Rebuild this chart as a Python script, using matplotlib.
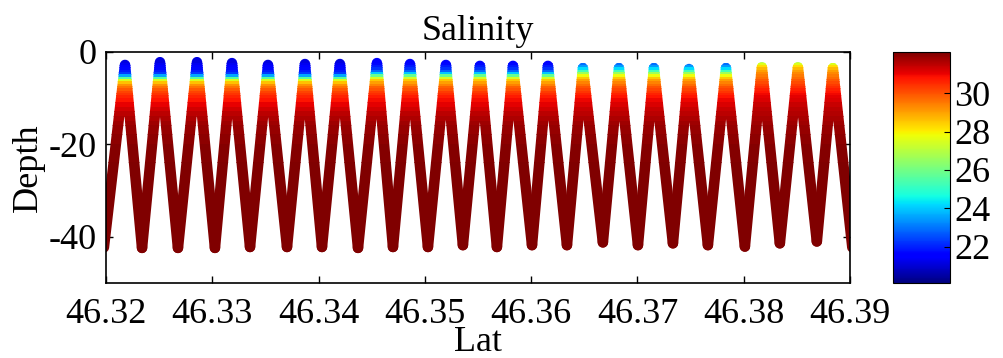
import numpy as np
import matplotlib
matplotlib.use("Agg")
from matplotlib import pyplot as plt
from matplotlib.patches import Rectangle
from matplotlib.colors import Normalize
from matplotlib.cm import ScalarMappable

plt.rcParams['font.family'] = ['Liberation Serif', 'DejaVu Serif']
plt.rcParams['axes.unicode_minus'] = False

# turning points of the yo-yo track
trough_lat = [46.3198, 46.32339, 46.32677, 46.33025, 46.33355, 46.33703, 46.34032,
              46.34371, 46.34700, 46.35029, 46.35358, 46.35678, 46.36008, 46.36337,
              46.36675, 46.37005, 46.37334, 46.37663, 46.38011, 46.38340, 46.38688,
              46.39022]
trough_depth = [-42.3, -42.4, -42.4, -42.4, -42.2, -42.2, -42.2,
                -42.4, -42.2, -42.2, -41.8, -42.2, -41.8, -41.8,
                -41.2, -41.8, -41.4, -41.8, -42.1, -41.4, -41.0,
                -42.3]
peak_lat = [46.32179, 46.32508, 46.32856, 46.33185, 46.33524, 46.33872, 46.34201,
            46.34549, 46.34860, 46.35198, 46.35518, 46.35829, 46.36158, 46.36487,
            46.36826, 46.37155, 46.37485, 46.37833, 46.38171, 46.38510, 46.38839]
peak_depth = [-2.8, -2.2, -2.2, -2.4, -2.8, -2.6, -2.6,
              -2.4, -2.6, -2.8, -3.0, -3.0, -3.0, -3.5,
              -3.5, -3.5, -3.7, -3.5, -3.3, -3.3, -3.5]
# which salinity profile each cast shows
cast_type = [0, 0, 0, 0, 0, 0, 0,
             1, 1, 1, 1, 1, 1, 2,
             2, 2, 2, 2, 3, 3, 3]

# salinity profiles (band edges in depth, one value per band)
band_edges = [0, -2.5, -3, -3.5, -4, -4.5, -5, -5.5, -6, -6.5, -7, -7.5, -8,
              -8.5, -9, -9.5, -10, -11, -12, -13, -14, -15, -16, -18, -20, -24, -50]
sal_type0 = [21.1, 21.3, 21.5, 21.7, 21.9, 22.3, 23.6, 25.6, 27.5, 28.6, 29.2,
             29.6, 29.9, 30.2, 30.4, 30.6, 30.8, 31.05, 31.3, 31.5, 31.65,
             31.8, 31.9, 32.0, 32.07, 32.12]
sal_type1 = [21.5, 21.7, 21.9, 22.2, 22.8, 24.0, 25.8, 27.4, 28.5, 29.0, 29.4,
             29.8, 30.0, 30.3, 30.5, 30.7, 30.9, 31.1, 31.3, 31.5, 31.65,
             31.8, 31.9, 32.0, 32.07, 32.12]
sal_type2 = [22.6, 22.9, 23.4, 24.2, 25.3, 26.6, 27.8, 28.5, 29.0, 29.4, 29.7,
             30.0, 30.2, 30.4, 30.6, 30.8, 31.0, 31.2, 31.35, 31.5, 31.65,
             31.8, 31.9, 32.0, 32.07, 32.12]
sal_type3 = [27.0, 27.5, 28.2, 28.7, 29.0, 29.3, 29.5, 29.7, 29.9, 30.1, 30.3,
             30.5, 30.65, 30.8, 30.95, 31.1, 31.2, 31.35, 31.5, 31.6, 31.7,
             31.8, 31.9, 32.0, 32.07, 32.12]
profiles = [sal_type0, sal_type1, sal_type2, sal_type3]

cbar_ticks = [22, 24, 26, 28, 30]
x_ticks = [46.32, 46.33, 46.34, 46.35, 46.36, 46.37, 46.38, 46.39]
y_ticks = [-40, -20, 0]
xlim = (46.32, 46.39)
ylim = (-50, 0)
clim = (20.1, 32.15)

cmap = plt.get_cmap('jet')
norm = Normalize(vmin=clim[0], vmax=clim[1])

fig = plt.figure(figsize=(10.04, 3.58), dpi=100)
ax = fig.add_axes([106/1004, 75/358, 744/1004, 231/358])
cax = fig.add_axes([893/1004, 75/358, 57/1004, 231/358])

for k in range(len(peak_lat)):
    lats = [trough_lat[k], peak_lat[k], trough_lat[k+1]]
    deps = [trough_depth[k], peak_depth[k], trough_depth[k+1]]
    prof = profiles[cast_type[k]]
    for j in range(len(prof)):
        top = min(band_edges[j] + 0.15, 0)
        bot = band_edges[j+1]
        line, = ax.plot(lats, deps, color=cmap(norm(prof[j])), lw=7.6,
                        solid_joinstyle='round', solid_capstyle='round')
        clip = Rectangle((xlim[0], bot), xlim[1]-xlim[0], top-bot,
                         transform=ax.transData)
        line.set_clip_path(clip)

ax.set_xlim(*xlim)
ax.set_ylim(*ylim)
ax.set_xticks(x_ticks)
ax.set_xticklabels(['%.2f' % v for v in x_ticks])
ax.set_yticks(y_ticks)
ax.set_yticklabels(['%d' % v for v in y_ticks])
ax.tick_params(direction='in', length=5, width=1, top=True, right=True,
               labelsize=26)
ax.tick_params(axis='x', pad=11)
ax.tick_params(axis='y', pad=7)
for s in ax.spines.values():
    s.set_linewidth(1.2)
ax.set_title('Salinity', fontsize=26, pad=9)
ax.set_xlabel('Lat', fontsize=26, labelpad=-4)
ax.set_ylabel('Depth', fontsize=26, labelpad=2)

cb = fig.colorbar(ScalarMappable(norm=norm, cmap=cmap), cax=cax)
cb.set_ticks(cbar_ticks)
cb.ax.tick_params(direction='in', length=4, width=0.8, labelsize=26, pad=3)
cb.outline.set_linewidth(0.8)
cax.set_aspect('auto')
cax.set_position([893/1004, 75/358, 57/1004, 231/358])

fig.savefig('out.png', dpi=100)
